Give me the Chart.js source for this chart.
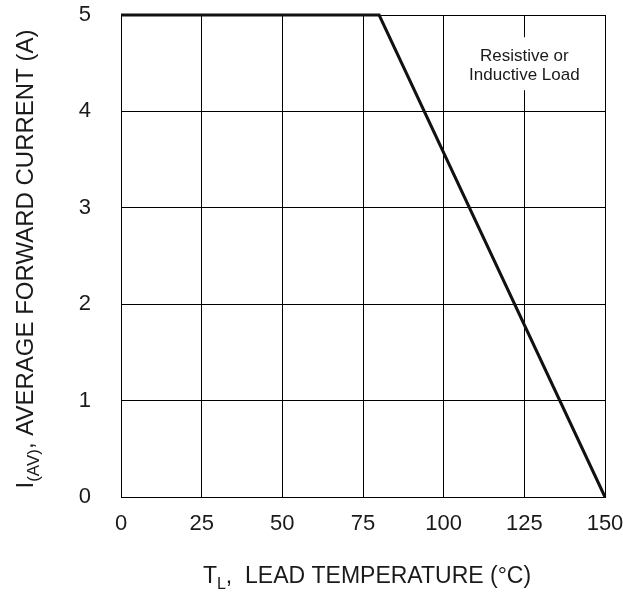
<!DOCTYPE html>
<html>
<head>
<meta charset="utf-8">
<script src="https://cdn.jsdelivr.net/npm/chart.js@4/dist/chart.umd.min.js"></script>
<style>
  html, body { margin: 0; padding: 0; background: #fff; }
  #wrap { width: 623px; height: 594px; }
</style>
</head>
<body>
<div id="wrap"><canvas id="chart"></canvas></div>
<script>
// derating curve
const tempC = [0, 80, 150];
const currentA = [5, 5, 0];
const xTicks = [0, 25, 50, 75, 100, 125, 150];
const yTicks = [0, 1, 2, 3, 4, 5];
const noteLines = ['Resistive or', 'Inductive Load'];
const notePos = { x: 125, y: 4.5 };

const FONT = '"Liberation Sans", Arial, sans-serif';
const INK = '#1a1a1a';

// draws a row of text parts, some of them subscript, centred on (0,0)
function drawParts(ctx, parts, size) {
  const subSize = Math.round(size * 0.7);
  let total = 0;
  parts.forEach(p => {
    ctx.font = `${p.sub ? subSize : size}px ${FONT}`;
    p.w = ctx.measureText(p.text).width;
    total += p.w;
  });
  let x = -total / 2;
  ctx.textBaseline = 'middle';
  ctx.textAlign = 'left';
  parts.forEach(p => {
    ctx.font = `${p.sub ? subSize : size}px ${FONT}`;
    ctx.fillText(p.text, x, p.sub ? size * 0.35 : 0);
    x += p.w;
  });
}

const extras = {
  id: 'extras',
  beforeDatasetsDraw(chart) {
    const ctx = chart.ctx;
    const x = chart.scales.x.getPixelForValue(notePos.x);
    const y = chart.scales.y.getPixelForValue(notePos.y);
    ctx.save();
    ctx.font = `17px ${FONT}`;
    const w = Math.max(...noteLines.map(t => ctx.measureText(t).width));
    ctx.fillStyle = '#fff';
    ctx.fillRect(x - w / 2 - 4, y - 26, w + 8, 53);
    ctx.fillStyle = INK;
    ctx.textAlign = 'center';
    ctx.textBaseline = 'middle';
    noteLines.forEach((t, i) => ctx.fillText(t, x, y - 7 + i * 19));
    ctx.restore();
  },
  afterDraw(chart) {
    const ctx = chart.ctx;
    const area = chart.chartArea;
    ctx.save();
    ctx.fillStyle = INK;
    ctx.translate((area.left + area.right) / 2 + 4, 577);
    drawParts(ctx, [{ text: 'T' }, { text: 'L', sub: true }, { text: ',  LEAD TEMPERATURE (\u00B0C)' }], 23);
    ctx.restore();
    ctx.save();
    ctx.fillStyle = INK;
    ctx.translate(26, 259);
    ctx.rotate(-Math.PI / 2);
    drawParts(ctx, [{ text: 'I' }, { text: '(AV)', sub: true }, { text: ', AVERAGE FORWARD CURRENT (A)' }], 24);
    ctx.restore();
  }
};

const axisStyle = {
  grid: { color: '#000', lineWidth: 1, drawTicks: false },
  border: { color: '#000', width: 1 },
};

new Chart(document.getElementById('chart'), {
  type: 'scatter',
  data: {
    datasets: [{
      data: tempC.map((t, i) => ({ x: t, y: currentA[i] })),
      showLine: true,
      borderColor: '#111',
      borderWidth: 3,
      pointRadius: 0,
      tension: 0,
      clip: false
    }]
  },
  options: {
    responsive: true,
    maintainAspectRatio: false,
    animation: false,
    devicePixelRatio: 1,
    layout: { padding: { left: 0, right: 18, top: 15, bottom: 0 } },
    plugins: { legend: { display: false }, tooltip: { enabled: false } },
    scales: {
      x: {
        type: 'linear', min: 0, max: 150,
        afterBuildTicks: s => { s.ticks = xTicks.map(v => ({ value: v })); },
        afterFit: s => { s.height = 97; s.paddingLeft = 0; s.paddingRight = 0; },
        ticks: { padding: 14, color: INK, font: { family: FONT, size: 22 } },
        ...axisStyle
      },
      y: {
        min: 0, max: 5,
        afterBuildTicks: s => { s.ticks = yTicks.map(v => ({ value: v })); },
        afterFit: s => { s.width = 121; s.paddingTop = 0; s.paddingBottom = 0; },
        ticks: { padding: 30, color: INK, font: { family: FONT, size: 22 } },
        ...axisStyle
      }
    }
  },
  plugins: [extras]
});
</script>
</body>
</html>
